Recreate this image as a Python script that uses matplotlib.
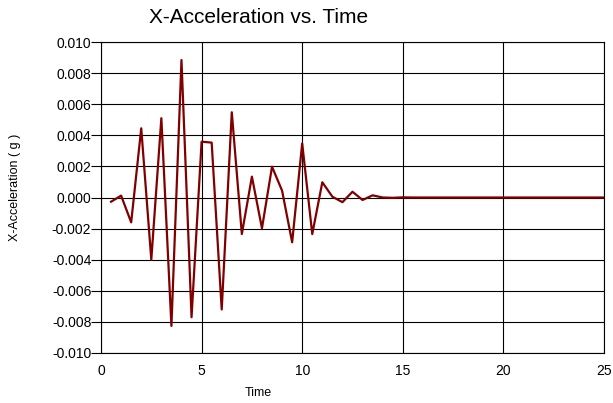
import numpy as np
import matplotlib.pyplot as plt
from matplotlib.ticker import FormatStrFormatter

plt.rcParams['font.family'] = ['Liberation Sans', 'DejaVu Sans']
plt.rcParams['axes.unicode_minus'] = False

# time steps and x-acceleration (g)
time = [0.5, 1.0, 1.5, 2.0, 2.5, 3.0, 3.5, 4.0, 4.5, 5.0, 5.5, 6.0, 6.5, 7.0,
        7.5, 8.0, 8.5, 9.0, 9.5, 10.0, 10.5, 11.0, 11.5, 12.0, 12.5, 13.0,
        13.5, 14.0, 14.5, 15.0, 15.5, 16.0, 16.5, 17.0, 17.5, 18.0, 18.5,
        19.0, 19.5, 20.0, 20.5, 21.0, 21.5, 22.0, 22.5, 23.0, 23.5, 24.0,
        24.5, 25.0]
accel = [-0.00027, 0.00012, -0.0016, 0.00445, -0.0040, 0.0051, -0.00826,
         0.00884, -0.0077, 0.00359, 0.00353, -0.0072, 0.00548, -0.00235,
         0.00134, -0.00198, 0.00198, 0.00044, -0.00288, 0.00348, -0.00235,
         0.00098, 0.00005, -0.0003, 0.00037, -0.00016, 0.00014, 0.0,
         -0.00002, 0.00001, 0.0, 0.0, 0.0, 0.0, 0.0, 0.0, 0.0, 0.0, 0.0, 0.0,
         0.0, 0.0, 0.0, 0.0, 0.0, 0.0, 0.0, 0.0, 0.0, 0.0]

fig = plt.figure(figsize=(6.13, 4.03), dpi=100)
ax = fig.add_axes([101/613, 50/403, 503/613, 311/403])

ax.plot(time, accel, color='#800000', lw=1.6, zorder=3)

ax.set_xlim(0, 25)
ax.set_ylim(-0.010, 0.010)
ax.set_xticks(np.arange(0, 26, 5))
ax.set_yticks(np.arange(-0.010, 0.0101, 0.002))
ax.yaxis.set_major_formatter(FormatStrFormatter('%.3f'))
ax.grid(True, color='black', lw=0.8)
ax.tick_params(axis='y', length=7, width=0.8, pad=0, labelsize=10)
ax.tick_params(axis='x', length=0, pad=8, labelsize=10)
for s in ax.spines.values():
    s.set_linewidth(0.8)

ax.set_title('X-Acceleration vs. Time', fontsize=15, x=0.314, y=1.035)
ax.set_xlabel('Time', fontsize=9)
ax.xaxis.set_label_coords(0.312, -0.108)
ax.set_ylabel('X-Acceleration ( g )', fontsize=9)
ax.yaxis.set_label_coords(-0.16, 0.534)

fig.savefig('out.png', dpi=100)
